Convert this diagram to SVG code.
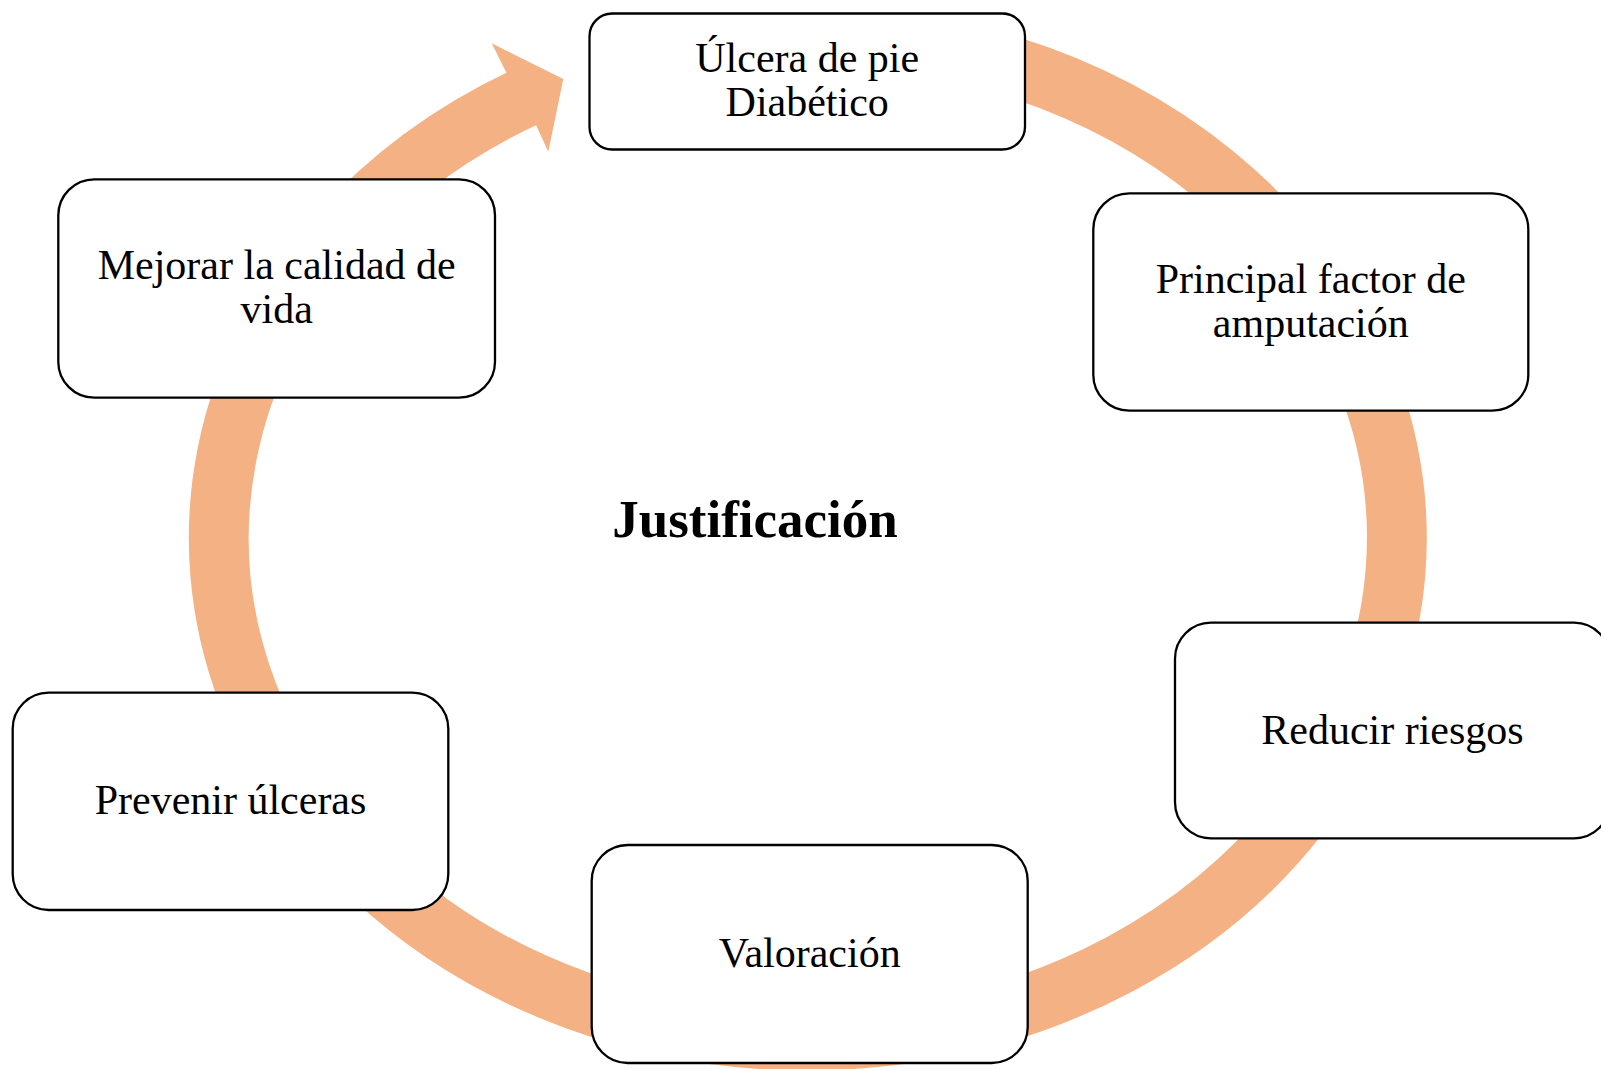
<svg xmlns="http://www.w3.org/2000/svg" width="1601" height="1069" viewBox="0 0 1601 1069">
  <style>
    .box { fill: #FFFFFF; stroke: #000000; stroke-width: 2.3; }
    .lbl { font-family: "Liberation Serif", "Times New Roman", serif; font-size: 42px; fill: #000000; text-anchor: middle; }
    .title { font-family: "Liberation Serif", "Times New Roman", serif; font-size: 53px; font-weight: bold; fill: #000000; text-anchor: middle; }
    .ring { fill: none; stroke: #F4B183; stroke-width: 60; stroke-linecap: butt; }
    .head { fill: #F4B183; stroke: none; }
  </style>
  <rect x="0" y="0" width="1601" height="1069" fill="#FFFFFF"/>
  <g id="connectors">
    <path class="ring" d="M 1000,63 A 589 502.5 0 1 1 530,94.9"/>
    <polygon class="head" points="506,72 491.7,43.3 563.3,79 548.3,151.7 536,125"/>
  </g>
  <g id="title">
    <text class="title" x="755" y="537">Justificación</text>
  </g>
  <g id="node1">
    <rect class="box" x="589.5" y="13.5" width="435.5" height="136" rx="22.7" ry="22.7"/>
    <text class="lbl" x="807.2" y="72">Úlcera de pie</text>
    <text class="lbl" x="807.2" y="116">Diabético</text>
  </g>
  <g id="node2">
    <rect class="box" x="1093.3" y="193.3" width="435" height="217.4" rx="36" ry="36"/>
    <text class="lbl" x="1310.8" y="292.7">Principal factor de</text>
    <text class="lbl" x="1310.8" y="336.7">amputación</text>
  </g>
  <g id="node3">
    <rect class="box" x="1175" y="622.7" width="435" height="215.6" rx="36" ry="36"/>
    <text class="lbl" x="1392.5" y="743.5">Reducir riesgos</text>
  </g>
  <g id="node4">
    <rect class="box" x="591.7" y="845" width="436" height="218" rx="36" ry="36"/>
    <text class="lbl" x="809.7" y="966.5">Valoración</text>
  </g>
  <g id="node5">
    <rect class="box" x="12.7" y="692.7" width="435.6" height="217.3" rx="36" ry="36"/>
    <text class="lbl" x="230.5" y="814">Prevenir úlceras</text>
  </g>
  <g id="node6">
    <rect class="box" x="58.3" y="179.3" width="436.7" height="218.4" rx="36" ry="36"/>
    <text class="lbl" x="276.7" y="279">Mejorar la calidad de</text>
    <text class="lbl" x="276.7" y="323">vida</text>
  </g>
</svg>
